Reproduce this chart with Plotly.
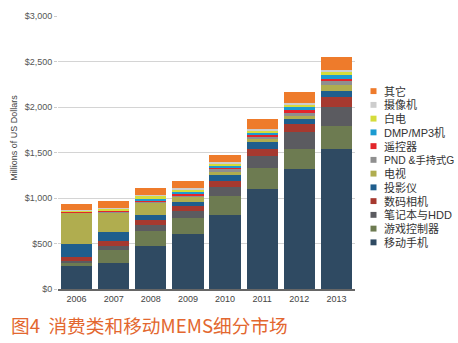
import plotly.graph_objects as go

years = ["2006", "2007", "2008", "2009", "2010", "2011", "2012", "2013"]

# series, bottom to top of the stack
mobile      = [248, 284, 473, 605, 818, 1098, 1314, 1537]
gaming      = [36, 144, 164, 176, 208, 230, 230, 253]
notebook    = [26, 40, 65, 72, 97, 130, 181, 209]
camera      = [46, 61, 61, 54, 65, 86, 93, 115]
projector   = [137, 97, 55, 47, 62, 73, 52, 65]
tv          = [347, 210, 130, 52, 38, 31, 34, 60]
pnd         = [3, 20, 15, 25, 35, 25, 40, 43]
remote      = [5, 5, 5, 8, 10, 15, 20, 29]
dmp         = [0, 5, 25, 25, 22, 29, 40, 46]
whitegoods  = [20, 18, 30, 25, 22, 22, 25, 25]
camcorder   = [5, 5, 10, 25, 18, 21, 18, 26]
other       = [60, 80, 72, 76, 83, 112, 120, 143]

names = ["移动手机", "游戏控制器", "笔记本与HDD", "数码相机", "投影仪", "电视",
         "PND &手持式G", "遥控器", "DMP/MP3机", "白电", "摄像机", "其它"]
series = [mobile, gaming, notebook, camera, projector, tv, pnd, remote, dmp,
          whitegoods, camcorder, other]
colors = ["#2f4a62", "#6d7b51", "#5b5b60", "#a6392f", "#1f5e8d", "#b0ad4f",
          "#8f8f8f", "#e2262b", "#1b9bd1", "#d5dc3b", "#cdcdcd", "#ee7b2b"]

yticks = [0, 500, 1000, 1500, 2000, 2500, 3000]

W, H = 458, 343
L, R, T, B = 58, 103, 11, 54
pw, ph = W - L - R, H - T - B

fig = go.Figure()
for n, v, c in zip(names, series, colors):
    fig.add_trace(go.Bar(x=years, y=v, name=n, marker=dict(color=c, line=dict(width=0)),
                         showlegend=False))

def px2paper(x, y):
    return (x - L) / pw, (H - B - y) / ph

annotations = []
shapes = []
# custom legend, top item = last series
for i, idx in enumerate(range(len(names) - 1, -1, -1)):
    ry = 87.5 + 14 * i
    x0, y0 = px2paper(370.5, ry - 3)
    x1, y1 = px2paper(376.5, ry + 3)
    shapes.append(dict(type="rect", xref="paper", yref="paper", x0=x0, x1=x1, y0=y1, y1=y0,
                       fillcolor=colors[idx], line=dict(width=0)))
    tx, ty = px2paper(382, ry)
    fs = 10.3 if names[idx].startswith("PND") else 11
    annotations.append(dict(text=names[idx], xref="paper", yref="paper", x=tx, y=ty,
                            xanchor="left", yanchor="middle", showarrow=False,
                            font=dict(size=fs, color="#333333",
                                      family="Liberation Sans, Noto Sans CJK SC")))

# y axis title
ax, ay = px2paper(14, 135)
annotations.append(dict(text="Millions of US Dollars", xref="paper", yref="paper", x=ax, y=ay,
                        textangle=-90, showarrow=False, xanchor="center", yanchor="middle",
                        font=dict(size=9, color="#444444", family="Liberation Sans")))
# caption
cx, cy = px2paper(9, 325)
annotations.append(dict(text="图4  消费类和移动MEMS细分市场", xref="paper", yref="paper", x=cx, y=cy,
                        xanchor="left", yanchor="middle", showarrow=False,
                        font=dict(size=18.7, color="#e3672f", family="Noto Sans CJK SC")))

fig.update_layout(
    width=W, height=H,
    margin=dict(l=L, r=R, t=T, b=B, pad=0),
    barmode="stack", bargap=0.16,
    paper_bgcolor="white", plot_bgcolor="white",
    showlegend=False,
    annotations=annotations, shapes=shapes,
    xaxis=dict(type="category", showgrid=False, showline=True, linecolor="#666666", linewidth=2,
               ticks="", tickfont=dict(size=9, color="#444444", family="Liberation Sans"),
               fixedrange=True),
    yaxis=dict(range=[0, 3000], tickvals=yticks,
               ticktext=["${:,}".format(v) for v in yticks],
               showgrid=True, gridcolor="#d4d4d4", gridwidth=1, zeroline=False,
               ticks="outside", ticklen=3, tickcolor="#cccccc",
               tickfont=dict(size=9, color="#555555", family="Liberation Sans"),
               fixedrange=True),
)

fig.write_html("out.html")
